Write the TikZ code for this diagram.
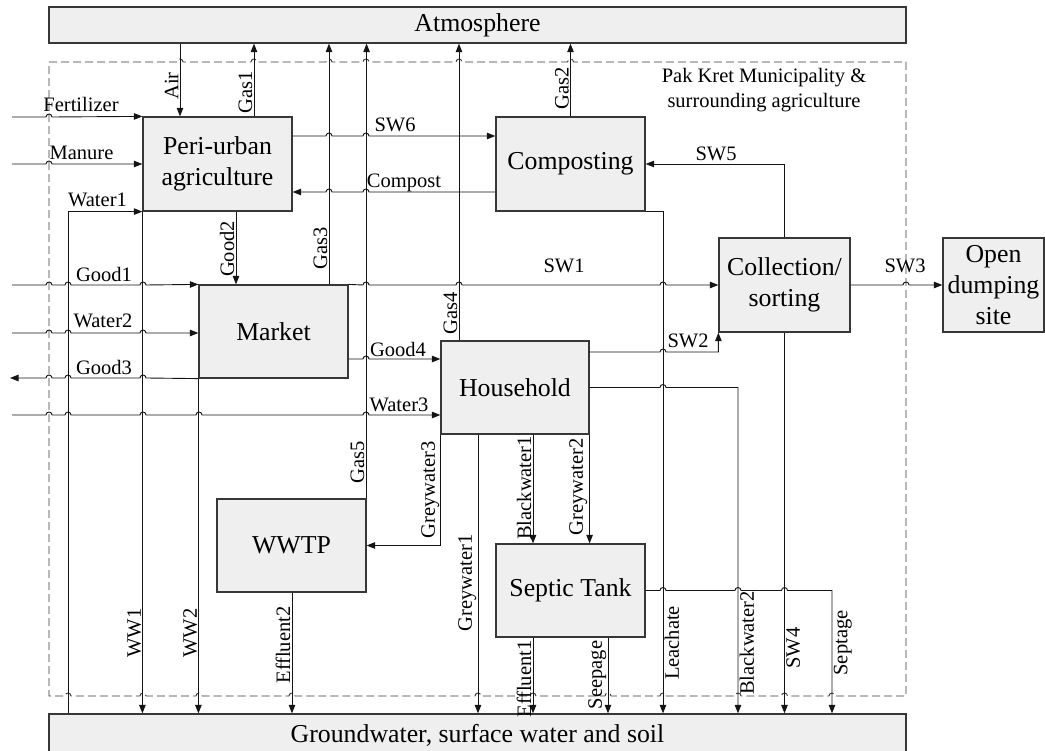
\documentclass[tikz,border=0pt]{standalone}
\usepackage{fontspec}
\setmainfont{Liberation Serif}
\usetikzlibrary{arrows.meta,positioning}

\definecolor{boxfill}{HTML}{EFEFEF}
\definecolor{ink}{HTML}{141414}
\definecolor{bordergray}{HTML}{3A3A3A}

\tikzset{
    proc/.style={draw=ink!85, line width=1.2pt, fill=boxfill, inner sep=0pt, align=center,
        font=\fontsize{25.8}{31}\selectfont},
    flow/.style={draw=ink, line width=0.9pt, -{Triangle[length=8.5pt,width=6.5pt]}},
    bound/.style={draw=bordergray, line width=0.9pt, dash pattern=on 8pt off 4pt},
    lab/.style={font=\fontsize{20.5}{25}\selectfont, inner sep=0pt, anchor=base},
    vlabL/.style={font=\fontsize{20.5}{25}\selectfont, rotate=90, anchor=south, inner sep=1.5pt},
    vlabR/.style={font=\fontsize{20.5}{25}\selectfont, rotate=90, anchor=north, inner sep=1.5pt},
}

\begin{document}
\begin{tikzpicture}[x=1pt, y=-1pt]
    \useasboundingbox (0,0) rectangle (1045,751);

    % Environment compartments
    \node[proc, minimum width=857pt, minimum height=36pt] (atm) at (477.5,25) {Atmosphere};
    \node[proc, minimum width=857pt, minimum height=42pt] (gnd) at (477.5,735) {Groundwater, surface water and soil};

    % System boundary (jumps over vertical flows)
    \draw[bound] (49,62) \foreach \x in {180,254,329,366,459,570.5} {-- (\x-3,62) arc[start angle=180, end angle=0, radius=3pt]}
        -- (906,62) -- (906,696)
        \foreach \x in {832,784.5,738,663,608,533,478,292,199,143,68} {-- (\x+3,696) arc[start angle=0, end angle=180, radius=3pt]}
        -- (49,696) -- cycle;
    \node[align=center, font=\fontsize{20.5}{25}\selectfont, inner sep=0pt] (lBound) at (764,90) {Pak Kret Municipality \&\\surrounding agriculture};

    % Processes
    \node[proc, minimum width=149pt, minimum height=94pt] (peri) at (217.5,164) {Peri-urban\\agriculture};
    \node[proc, minimum width=149pt, minimum height=94pt] (comp) at (570.5,164) {Composting};
    \node[proc, minimum width=131pt, minimum height=94pt] (coll) at (784.5,285) {Collection/\\sorting};
    \node[proc, minimum width=101pt, minimum height=94pt] (dump) at (993.5,285) {Open\\dumping\\site};
    \node[proc, minimum width=149pt, minimum height=93pt] (market) at (273.5,331.5) {Market};
    \node[proc, minimum width=148pt, minimum height=93pt] (house) at (515,387.5) {Household};
    \node[proc, minimum width=149pt, minimum height=93pt] (wwtp) at (291.5,545.5) {WWTP};
    \node[proc, minimum width=149pt, minimum height=93pt] (septic) at (570.5,590.5) {Septic Tank};

    % Columns and rows of the flows
    \coordinate (cWater1) at (68,0);
    \coordinate (cAir) at (180,0);
    \coordinate (cGood2) at (236,0);
    \coordinate (cGas1) at (254,0);
    \coordinate (cEff2) at (292,0);
    \coordinate (cGas3) at (329,0);
    \coordinate (cGas4) at (459,0);
    \coordinate (cGW1) at (478,0);
    \coordinate (cBW1) at (533,0);
    \coordinate (cSeep) at (608,0);
    \coordinate (cLeach) at (663,0);
    \coordinate (cBW2) at (738,0);
    \coordinate (cSept) at (832,0);
    \coordinate (rSW6) at (0,136);
    \coordinate (rComp) at (0,192);
    \coordinate (rSW2) at (0,352);
    \coordinate (rGood4) at (0,359);
    \coordinate (inFert) at (12,117);
    \coordinate (inMan) at (12,164);
    \coordinate (inGood1) at (12,285);
    \coordinate (inWater2) at (12,333);
    \coordinate (outGood3) at (10,378);
    \coordinate (inWater3) at (12,415);

    % Exchanges with the atmosphere
    \draw[flow] (cAir |- atm.south) -- (cAir |- peri.north);
    \draw[flow] (cGas1 |- peri.north) -- (cGas1 |- atm.south);
    \draw[flow] (cGas3 |- market.north) -- (cGas3 |- atm.south);
    \draw[flow] (wwtp.north east) -- (wwtp.north east |- atm.south);
    \draw[flow] (cGas4 |- house.north) -- (cGas4 |- atm.south);
    \draw[flow] (comp.north) -- (comp.north |- atm.south);
    \node[vlabL] (lAir) at (180,86) {Air};
    \node[vlabL] (lGas1) at (254,92) {Gas1};
    \node[vlabL] (lGas2) at (570.5,88) {Gas2};
    \node[vlabL] (lGas3) at (329,248) {Gas3};
    \node[vlabL] (lGas4) at (459,313) {Gas4};
    \node[vlabL] (lGas5) at (366,462) {Gas5};

    % Inputs from outside
    \draw[flow] (inFert) -- (46,117) arc[start angle=180, end angle=0, radius=3pt] -- (peri.north west);
    \draw[flow] (inMan) -- (46,164) arc[start angle=180, end angle=0, radius=3pt] -- (peri.west);
    \draw[flow] (cWater1 |- gnd.north) -- (cWater1 |- peri.south west) -- (peri.south west);
    \draw[flow] (inGood1) \foreach \x in {49,68,143} {-- (\x-3,285) arc[start angle=180, end angle=0, radius=3pt]} -- (market.north west);
    \draw[flow] (inWater2) \foreach \x in {49,68,143} {-- (\x-3,333) arc[start angle=180, end angle=0, radius=3pt]} -- (inWater2 -| market.west);
    \draw[flow] (market.south west) \foreach \x in {143,68,49} {-- (\x+3,378) arc[start angle=0, end angle=180, radius=3pt]} -- (outGood3);
    \draw[flow] (inWater3) \foreach \x in {49,68,143,199,366} {-- (\x-3,415) arc[start angle=180, end angle=0, radius=3pt]} -- (inWater3 -| house.west);
    \node[lab] (lFert) at (81,112) {Fertilizer};
    \node[lab] (lMan) at (81.5,160) {Manure};
    \node[lab] (lWater1) at (97.5,207) {Water1};
    \node[lab] (lGood1) at (104,282) {Good1};
    \node[lab] (lWater2) at (103,328) {Water2};
    \node[lab] (lGood3) at (104,375) {Good3};
    \node[lab] (lWater3) at (399,412) {Water3};

    % Agriculture, composting and market
    \draw[flow] (cGood2 |- peri.south) -- (cGood2 |- market.north);
    \draw[flow] (rSW6 -| peri.east) \foreach \x in {329,366} {-- (\x-3,136) arc[start angle=180, end angle=0, radius=3pt]} -- (rSW6 -| comp.west);
    \draw[flow] (rComp -| comp.west) \foreach \x in {366,329} {-- (\x+3,192) arc[start angle=0, end angle=180, radius=3pt]} -- (rComp -| peri.east);
    \draw[flow] (coll.north) |- (comp.east);
    \draw[flow] (market.north east) \foreach \x in {366,459,663} {-- (\x-3,285) arc[start angle=180, end angle=0, radius=3pt]} -- (coll.west);
    \draw[flow] (coll.east) -- (903,285) arc[start angle=180, end angle=0, radius=3pt] -- (dump.west);
    \draw[flow] (rGood4 -| market.east) -- (363,359) arc[start angle=180, end angle=0, radius=3pt] -- (rGood4 -| house.west);
    \draw[flow] (rSW2 -| house.east) -- (660,352) arc[start angle=180, end angle=0, radius=3pt] -- (rSW2 -| coll.south west) -- (coll.south west);
    \node[vlabL] (lGood2) at (236,249) {Good2};
    \node[lab] (lSW6) at (395,131.5) {SW6};
    \node[lab] (lComp) at (404,188) {Compost};
    \node[lab] (lSW5) at (716,161) {SW5};
    \node[lab] (lSW1) at (564,273) {SW1};
    \node[lab] (lSW3) at (905,273) {SW3};
    \node[lab] (lGood4) at (398,357) {Good4};
    \node[lab] (lSW2) at (688,348) {SW2};

    % Household wastewater
    \draw[flow] (house.south west) |- (wwtp.east);
    \draw[flow] (cGW1 |- house.south) -- (cGW1 |- gnd.north);
    \draw[flow] (cBW1 |- house.south) -- (cBW1 |- septic.north);
    \draw[flow] (house.south east) -- (house.south east |- septic.north);
    \draw[flow] (cBW1 |- septic.south) -- (cBW1 |- gnd.north);
    \draw[flow] (cSeep |- septic.south) -- (cSeep |- gnd.north);
    \draw[flow] (cEff2 |- wwtp.south) -- (cEff2 |- gnd.north);
    \node[vlabL] (lGW3) at (441,490) {Greywater3};
    \node[vlabL] (lGW1) at (478,583) {Greywater1};
    \node[vlabL] (lBW1) at (533,488) {Blackwater1};
    \node[vlabL] (lGW2) at (589,487) {Greywater2};
    \node[vlabL] (lEff1) at (533,679) {Effluent1};
    \node[vlabL] (lSeep) at (608,675) {Seepage};
    \node[vlabL] (lEff2) at (292,645) {Effluent2};

    % Outflows to groundwater, surface water and soil
    \draw[flow] (peri.south west) -- (peri.south west |- gnd.north);
    \draw[flow] (market.south west) -- (market.south west |- gnd.north);
    \draw[flow] (comp.south east) -- (cLeach |- comp.south east) -- (cLeach |- gnd.north);
    \draw[flow] (house.east) -- (660,387.5) arc[start angle=180, end angle=0, radius=3pt] -- (cBW2 |- house.east) -- (cBW2 |- gnd.north);
    \draw[flow] (coll.south) -- (coll.south |- gnd.north);
    \draw[flow] (septic.east) \foreach \x in {663,738,784.5} {-- (\x-3,590.5) arc[start angle=180, end angle=0, radius=3pt]} -- (cSept |- septic.east) -- (cSept |- gnd.north);
    \node[vlabL] (lWW1) at (143,633) {WW1};
    \node[vlabL] (lWW2) at (199,633) {WW2};
    \node[vlabR] (lLeach) at (663,643) {Leachate};
    \node[vlabR] (lBW2) at (738,643) {Blackwater2};
    \node[vlabR] (lSW4) at (784.5,648) {SW4};
    \node[vlabR] (lSept) at (832,643) {Septage};
\end{tikzpicture}
\end{document}
